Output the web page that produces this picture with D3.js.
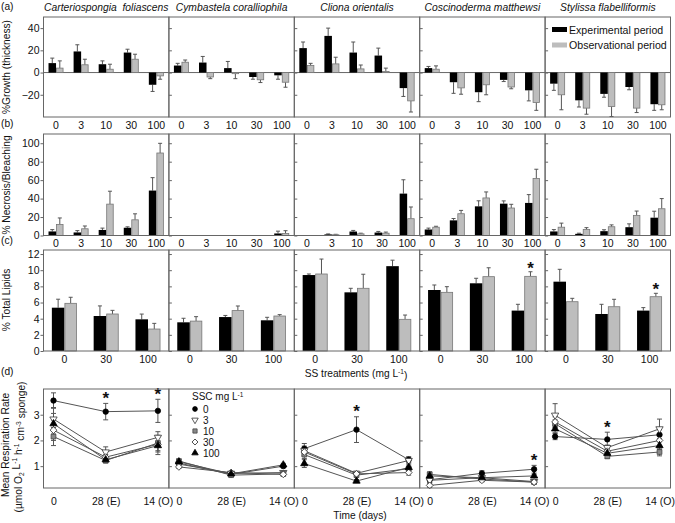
<!DOCTYPE html>
<html><head><meta charset="utf-8">
<script src="https://cdn.jsdelivr.net/npm/d3@7"></script>
<style>body{margin:0;background:#fff} svg text{font-family:"Liberation Sans",Arial,sans-serif;fill:#111}</style>
</head><body><svg id="c" width="675" height="523"></svg>
<script>
const species = ["Carteriospongia  foliascens","Cymbastela coralliophila","Cliona orientalis","Coscinoderma matthewsi","Stylissa flabelliformis"];
const ssLevels = ["0","3","10","30","100"];
const lipidLevels = ["0","30","100"];
const growthExp    = [[8.5,19,7.5,18,-11],[6.3,9,4,-4,-2.5],[22,33,18,15.3,-14],[4,-8.7,-17.7,-6.6,-16],[-10,-25,-19.2,-13,-28.5]];
const growthExpErr = [[4.5,6,3,3,6],[2,5.5,6,2,3.5],[5.5,7,9.5,6.7,7.5],[1.5,10,8.5,1.5,9.5],[6,6,3,2.5,5.5]];
const growthObs    = [[4,7,3,12,-3],[9.3,-4,-1,-6.5,-8.7],[6.3,7.8,3.3,1,-25.5],[3,-13.8,-11,-13,-27],[-20,-32,-30.6,-32,-29]];
const growthObsErr = [[6.5,5,4.5,4.5,3],[2,1.5,4.5,2.5,4.5],[2,6,3.5,3,10],[3,5.7,9,1.6,7],[13.5,5.5,9,4,4.5]];
const necrosisExp    = [[4.4,3.3,6,8.4,48.7],[0,0,0,0,2.2],[0,1.2,4.3,3.2,45.4],[6.5,16.4,31.6,34.5,35.3],[4.4,1.8,4.7,9,19.3]];
const necrosisExpErr = [[2,2,2,1,14],[0,0,0,0,2.5],[0,0.5,1.2,1.2,15],[1.5,2,6,3,9],[2,0.7,1.5,3.6,7]];
const necrosisObs    = [[12,7.3,34,17,89.4],[0,0,0,0,2.2],[0,0.8,1.8,2.5,18.2],[9,23.6,40.7,29.8,61.8],[9,6.5,9.5,21.8,29]];
const necrosisObsErr = [[7,3,14,6.5,10.5],[0,0,0,0,3],[0,0.5,0.7,1.2,12.7],[1,3.6,6.5,4,10],[4.4,2,2,4.7,11]];
const lipidExp    = [[5.36,4.33,3.92],[3.55,4.2,3.8],[9.4,7.26,10.5],[7.55,8.38,5.0],[8.58,4.58,5.0]];
const lipidExpErr = [[1.05,1.25,0.65],[0.5,0.2,0.37],[0.13,0.5,0.74],[0.62,0.62,0.78],[1.53,1.2,0.37]];
const lipidObs    = [[5.9,4.58,2.72],[3.7,5.0,4.33],[9.53,7.76,3.92],[7.26,9.2,9.24],[6.1,5.48,6.72]];
const lipidObsErr = [[0.75,0.45,0.7],[0.55,0.57,0.17],[1.85,1.74,0.53],[0.7,1.1,0.57],[0.42,0.92,0.42]];
const lipidStars = [[3,2],[4,2]]; // [species, level index] on observational bar
const timeLabels = ["0","28 (E)","14 (O)"];
const sscLevels = ["0","3","10","30","100"];
const resp = [
 [[3.55,3.12,3.15],[2.83,1.55,2.12],[2.15,1.22,1.9],[2.4,1.35,1.85],[2.65,1.25,1.8]],
 [[1.12,0.68,1.0],[1.08,0.72,0.75],[1.2,0.65,0.7],[0.97,0.75,0.68],[1.17,0.7,1.05]],
 [[1.68,2.42,1.25],[1.6,0.72,1.22],[1.45,0.65,0.9],[1.55,0.7,0.75],[1.1,0.42,0.95]],
 [[0.47,0.72,0.88],[0.45,0.55,0.4],[0.68,0.5,0.38],[0.25,0.45,0.38],[0.62,0.55,0.62]],
 [[2.15,2.04,2.22],[2.98,1.72,2.45],[2.65,1.38,1.55],[2.72,1.58,2.0],[2.45,1.5,1.8]]
];
const respErr = [
 [[0.3,0.32,0.45],[0.45,0.2,0.22],[0.35,0.1,0.3],[0.4,0.1,0.3],[0.4,0.1,0.35]],
 [[0.06,0.05,0.06],[0.06,0.05,0.06],[0.06,0.05,0.06],[0.06,0.05,0.06],[0.06,0.05,0.06]],
 [[0.2,0.5,0.12],[0.18,0.08,0.1],[0.15,0.06,0.1],[0.15,0.06,0.1],[0.15,0.06,0.1]],
 [[0.12,0.1,0.15],[0.08,0.06,0.06],[0.1,0.06,0.06],[0.08,0.06,0.06],[0.08,0.06,0.06]],
 [[0.12,0.28,0.2],[0.45,0.1,0.38],[0.15,0.08,0.15],[0.2,0.1,0.2],[0.15,0.08,0.15]]
];
const respStars = [[0,1],[0,2],[2,1],[3,2],[4,1]];

const FS = 10.2;
const svg = d3.select("#c");
const frameCol = "#666", errCol = "#555";
const colX = d3.scaleBand().domain(d3.range(5)).range([43.5,670.5]);
const bw = colX.bandwidth();

function supText(sel, parts){
  parts.forEach(p=>{
    const t = sel.append("tspan").text(p[0]);
    if(p[1]==="sup") t.attr("font-size","0.65em").attr("dy","-0.45em");
    else if(p[1]==="sub") t.attr("font-size","0.65em").attr("dy","0.3em");
    else if(p[1]==="back") t.attr("dy","0.45em");
    else if(p[1]==="up") t.attr("dy","-0.3em");
  });
}

function yAxisFor(g, i, y, ticks){
  if(i===0){
    g.append("g").call(d3.axisLeft(y).tickValues(ticks).tickSize(3).tickPadding(1).tickFormat(d3.format("~g")))
      .call(a=>{a.select(".domain").remove(); a.selectAll("line").attr("stroke",frameCol);
        a.selectAll("text").attr("font-size",FS+0.3).style("font-family",'"Liberation Sans",Arial,sans-serif').attr("fill","#111");});
  } else {
    g.append("g").call(d3.axisLeft(y).tickValues(ticks).tickSize(-3).tickFormat(""))
      .call(a=>{a.select(".domain").remove(); a.selectAll("line").attr("stroke",frameCol);});
  }
}
function xAxisFor(g, x, bottom, pad){
  g.append("g").attr("transform",`translate(0,${bottom})`)
    .call(d3.axisBottom(x).tickSize(0).tickPadding(pad))
    .call(a=>{a.select(".domain").remove();
      a.selectAll("text").attr("font-size",FS+0.3).style("font-family",'"Liberation Sans",Arial,sans-serif').attr("fill","#111");});
}

function barRow(cfg){
  const y = d3.scaleLinear().domain(cfg.domain).range([cfg.bottom,cfg.top]);
  for(let i=0;i<5;i++){
    const g = svg.append("g").attr("transform",`translate(${colX(i)},0)`);
    const x = d3.scaleBand().domain(cfg.cats).range([0,bw]).paddingInner(0.4).paddingOuter(0.2);
    const x1 = d3.scaleBand().domain(["exp","obs"]).range([0,x.bandwidth()]);
    if(cfg.zeroLine) g.append("line").attr("x1",0).attr("x2",bw).attr("y1",y(0)).attr("y2",y(0)).attr("stroke",frameCol);
    const data = [];
    cfg.cats.forEach((c,j)=>{
      data.push({c, s:"exp", v:cfg.exp[i][j], e:cfg.expErr[i][j]});
      data.push({c, s:"obs", v:cfg.obs[i][j], e:cfg.obsErr[i][j]});
    });
    const nz = data.filter(d=>d.v!==0);
    nz.filter(d=>d.e>0).forEach(d=>{
      const cx = x(d.c)+x1(d.s)+x1.bandwidth()/2;
      const end = d.v>=0 ? d.v+d.e : d.v-d.e;
      g.append("line").attr("x1",cx).attr("x2",cx).attr("y1",y(d.v)).attr("y2",y(end)).attr("stroke",errCol).attr("stroke-width",1);
      g.append("line").attr("x1",cx-2).attr("x2",cx+2).attr("y1",y(end)).attr("y2",y(end)).attr("stroke",errCol).attr("stroke-width",1);
    });
    g.selectAll("rect.bar").data(nz).join("rect").attr("class","bar")
      .attr("x",d=>x(d.c)+x1(d.s)+(d.s==="obs"?0.5:0))
      .attr("width",d=>x1.bandwidth()-(d.s==="obs"?1:0))
      .attr("y",d=>Math.min(y(d.v),y(0)))
      .attr("height",d=>Math.abs(y(d.v)-y(0)))
      .attr("fill",d=>d.s==="exp"?"#000":"#bdbdbd")
      .attr("stroke",d=>d.s==="exp"?"none":"#777").attr("stroke-width",0.8);
    if(cfg.stars){
      cfg.stars.filter(s=>s[0]===i).forEach(s=>{
        const j=s[1], c=cfg.cats[j];
        const cx = x(c)+x1("obs")+x1.bandwidth()/2;
        const top = y(cfg.obs[i][j]+cfg.obsErr[i][j]);
        g.append("text").attr("x",cx).attr("y",top+2).attr("text-anchor","middle").attr("font-size",17).attr("font-weight","bold").text("*");
      });
    }
    g.append("rect").attr("x",0).attr("y",cfg.top).attr("width",bw).attr("height",cfg.bottom-cfg.top)
      .attr("fill","none").attr("stroke",frameCol).attr("stroke-width",1);
    yAxisFor(g,i,y,cfg.ticks);
    xAxisFor(g,x,cfg.bottom,cfg.xpad);
  }
}

barRow({top:17,bottom:117,domain:[-40,50],ticks:[-20,0,20,40],cats:ssLevels,exp:growthExp,expErr:growthExpErr,obs:growthObs,obsErr:growthObsErr,zeroLine:true,xpad:5});
barRow({top:134,bottom:235.5,domain:[0,110],ticks:[0,20,40,60,80,100],cats:ssLevels,exp:necrosisExp,expErr:necrosisExpErr,obs:necrosisObs,obsErr:necrosisObsErr,xpad:4});
barRow({top:250,bottom:351,domain:[0,12.5],ticks:[0,2,4,6,8,10,12],cats:lipidLevels,exp:lipidExp,expErr:lipidExpErr,obs:lipidObs,obsErr:lipidObsErr,xpad:5,stars:lipidStars});

species.forEach((s,i)=>{
  svg.append("text").attr("x",colX(i)+bw/2).attr("y",11).attr("text-anchor","middle")
    .attr("font-size",10.3).attr("font-style","italic").style("white-space","pre").text(s);
});

const leg = [["Experimental period","#000"],["Observational period","#bdbdbd"]];
leg.forEach((l,k)=>{
  svg.append("rect").attr("x",552).attr("y",27+k*15.5).attr("width",15).attr("height",5).attr("fill",l[1]);
  svg.append("text").attr("x",569).attr("y",33.5+k*15.5).attr("font-size",10.6).text(l[0]);
});

const markers = {
  "0":{type:d3.symbolCircle,fill:"#000",stroke:"#000",rot:0},
  "3":{type:d3.symbolTriangle,fill:"#fff",stroke:"#333",rot:180},
  "10":{type:d3.symbolSquare,fill:"#888",stroke:"#444",rot:0},
  "30":{type:d3.symbolSquare,fill:"#fff",stroke:"#333",rot:45},
  "100":{type:d3.symbolTriangle,fill:"#000",stroke:"#000",rot:0}
};
function drawMarker(g,lvl,cx,cy,size){
  const m = markers[lvl];
  g.append("path").attr("d",d3.symbol().type(m.type).size(size||23)())
    .attr("transform",`translate(${cx},${cy}) rotate(${m.rot})`)
    .attr("fill",m.fill).attr("stroke",m.stroke).attr("stroke-width",0.8);
}
{
  const top=389,bottom=488;
  const y = d3.scaleLinear().domain([0.15,4]).range([bottom,top]);
  for(let i=0;i<5;i++){
    const g = svg.append("g").attr("transform",`translate(${colX(i)},0)`);
    const x = d3.scalePoint().domain(timeLabels).range([10,bw-11]);
    const line = d3.line().x((d,k)=>x(timeLabels[k])).y(d=>y(d));
    sscLevels.forEach((lvl,s)=>{
      g.append("path").attr("d",line(resp[i][s])).attr("fill","none").attr("stroke","#555").attr("stroke-width",1);
    });
    sscLevels.forEach((lvl,s)=>{
      resp[i][s].forEach((v,k)=>{
        const e=respErr[i][s][k], cx=x(timeLabels[k]);
        g.append("line").attr("x1",cx).attr("x2",cx).attr("y1",y(v-e)).attr("y2",y(v+e)).attr("stroke",errCol);
        [v-e,v+e].forEach(w=>g.append("line").attr("x1",cx-2.5).attr("x2",cx+2.5).attr("y1",y(w)).attr("y2",y(w)).attr("stroke",errCol));
      });
    });
    sscLevels.forEach((lvl,s)=>{
      resp[i][s].forEach((v,k)=>drawMarker(g,lvl,x(timeLabels[k]),y(v)));
    });
    respStars.filter(st=>st[0]===i).forEach(st=>{
      const k=st[1];
      const mx = d3.max(sscLevels.map((l,s)=>resp[i][s][k]+respErr[i][s][k]));
      g.append("text").attr("x",x(timeLabels[k])).attr("y",y(mx)+0.5).attr("text-anchor","middle").attr("font-size",17).attr("font-weight","bold").text("*");
    });
    g.append("rect").attr("x",0).attr("y",top).attr("width",bw).attr("height",bottom-top)
      .attr("fill","none").attr("stroke",frameCol);
    yAxisFor(g,i,y,[1,2,3]);
    xAxisFor(g,x,bottom,10);
  }
  const lg = svg.append("g");
  const t = lg.append("text").attr("x",192).attr("y",400).attr("font-size",10);
  supText(t,[["SSC mg L"],["-1","sup"]]);
  sscLevels.forEach((lvl,s)=>{
    const cy = 409+s*11;
    drawMarker(lg,lvl,195,cy,18);
    lg.append("text").attr("x",203).attr("y",cy+3.6).attr("font-size",10).text(lvl);
  });
}

[["(a)",10],["(b)",127],["(c)",244],["(d)",375]].forEach(p=>{
  svg.append("text").attr("x",1).attr("y",p[1]).attr("font-size",FS).text(p[0]);
});
function yLabel(x,cy,parts){
  const t = svg.append("text").attr("transform",`translate(${x},${cy}) rotate(-90)`).attr("text-anchor","middle").attr("font-size",FS);
  supText(t,parts);
}
yLabel(10,67,[["%Growth (thickness)"]]);
yLabel(10,185,[["% Necrosis/Bleaching"]]);
yLabel(10,300,[["% Total Lipids"]]);
yLabel(9,445,[["Mean Respiration Rate"]]);
yLabel(21.5,447,[["(µmol O"],["2","sub"],[" L","up"],["-1","sup"],[" h","back"],["-1","sup"],[" cm","back"],["-3","sup"],[" sponge)","back"]]);
{
  const t = svg.append("text").attr("x",356).attr("y",377).attr("text-anchor","middle").attr("font-size",FS);
  supText(t,[["SS treatments (mg L"],["-1","sup"],[")","back"]]);
  svg.append("text").attr("x",360).attr("y",519).attr("text-anchor","middle").attr("font-size",FS).text("Time (days)");
}
</script></body></html>
